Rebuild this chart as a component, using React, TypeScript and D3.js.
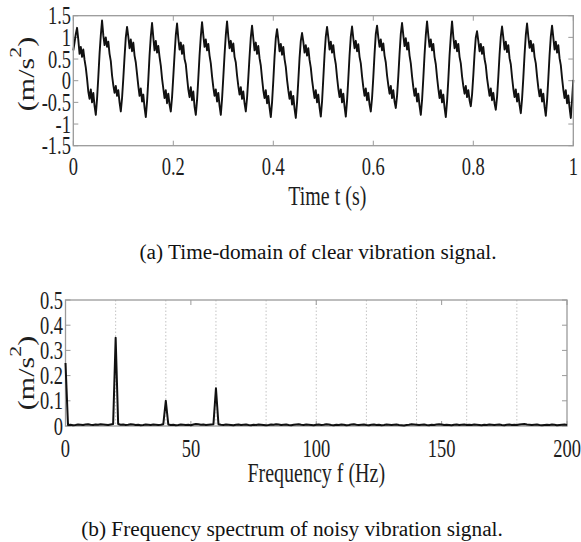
import React from "react";
import * as d3 from "d3";

// ---------- DATA ----------
const timeTicks = [0, 0.2, 0.4, 0.6, 0.8, 1];
const timeTickLabels = ["0", "0.2", "0.4", "0.6", "0.8", "1"];
const accelTicks = [-1.5, -1, -0.5, 0, 0.5, 1, 1.5];
const accelTickLabels = ["-1.5", "-1", "-0.5", "0", "0.5", "1", "1.5"];
const freqTicks = [0, 50, 100, 150, 200];
const freqTickLabels = ["0", "50", "100", "150", "200"];
const freqGrid = [20, 40, 60, 80, 100, 120, 140, 160, 180];
const ampTicks = [0, 0.1, 0.2, 0.3, 0.4, 0.5];
const ampTickLabels = ["0", "0.1", "0.2", "0.3", "0.4", "0.5"];

const timeStep = 0.0025; // s
const timeSignal = [
  0.70, 0.88, 1.08,
  1.22, 0.95, 0.62, 0.78, 0.55, 0.72, 0.48, 0.30, 0.05, -0.25, -0.42, -0.20, -0.50, -0.28, -0.58, -0.79, -0.42, 0.08, 0.62, 1.05,
  1.39, 1.05, 0.82, 1.00, 0.78, 0.90, 0.62, 0.45, 0.12, -0.10, -0.28, -0.12, -0.35, -0.22, -0.50, -0.71, -0.40, 0.05, 0.55, 1.00,
  1.24, 1.02, 0.75, 0.95, 0.68, 0.88, 0.58, 0.42, 0.15, -0.12, -0.35, -0.18, -0.48, -0.32, -0.62, -0.84, -0.48, 0.02, 0.58, 1.02,
  1.33, 1.00, 0.70, 0.92, 0.65, 0.80, 0.55, 0.35, 0.05, -0.18, -0.40, -0.22, -0.52, -0.30, -0.55, -0.71, -0.38, 0.10, 0.60, 1.05,
  1.32, 0.98, 0.72, 0.88, 0.62, 0.82, 0.50, 0.38, 0.08, -0.20, -0.38, -0.15, -0.45, -0.25, -0.60, -0.79, -0.45, 0.05, 0.58, 1.02,
  1.35, 1.05, 0.78, 0.95, 0.70, 0.85, 0.58, 0.40, 0.10, -0.15, -0.35, -0.20, -0.48, -0.28, -0.58, -0.79, -0.42, 0.08, 0.60, 1.05,
  1.37, 1.02, 0.75, 0.92, 0.68, 0.86, 0.55, 0.42, 0.12, -0.12, -0.32, -0.15, -0.42, -0.25, -0.52, -0.71, -0.40, 0.06, 0.56, 1.00,
  1.27, 0.98, 0.70, 0.88, 0.62, 0.80, 0.52, 0.35, 0.05, -0.22, -0.40, -0.22, -0.52, -0.35, -0.62, -0.84, -0.50, 0.00, 0.55, 0.98,
  1.19, 0.95, 0.68, 0.85, 0.60, 0.78, 0.50, 0.32, 0.02, -0.22, -0.42, -0.25, -0.55, -0.35, -0.65, -0.86, -0.50, 0.00, 0.52, 0.92,
  1.10, 0.90, 0.65, 0.82, 0.58, 0.75, 0.48, 0.30, 0.02, -0.20, -0.40, -0.22, -0.50, -0.32, -0.62, -0.83, -0.48, 0.05, 0.60, 1.02,
  1.24, 1.00, 0.72, 0.90, 0.65, 0.82, 0.55, 0.38, 0.08, -0.18, -0.38, -0.20, -0.50, -0.30, -0.60, -0.83, -0.46, 0.04, 0.58, 1.02,
  1.25, 0.98, 0.75, 0.92, 0.68, 0.84, 0.55, 0.40, 0.10, -0.15, -0.35, -0.18, -0.45, -0.28, -0.55, -0.71, -0.40, 0.08, 0.62, 1.08,
  1.27, 1.00, 0.78, 0.95, 0.70, 0.86, 0.58, 0.42, 0.12, -0.10, -0.30, -0.12, -0.40, -0.22, -0.48, -0.63, -0.35, 0.10, 0.62, 1.08,
  1.33, 1.05, 0.80, 0.98, 0.72, 0.88, 0.58, 0.40, 0.10, -0.15, -0.35, -0.18, -0.48, -0.30, -0.58, -0.79, -0.45, 0.05, 0.60, 1.05,
  1.37, 1.05, 0.78, 0.95, 0.70, 0.85, 0.55, 0.38, 0.08, -0.18, -0.40, -0.22, -0.50, -0.32, -0.62, -0.84, -0.48, 0.02, 0.58, 1.02,
  1.37, 1.02, 0.75, 0.92, 0.68, 0.85, 0.55, 0.40, 0.10, -0.12, -0.30, -0.12, -0.38, -0.22, -0.45, -0.59, -0.32, 0.12, 0.62, 1.00,
  1.14, 0.92, 0.68, 0.85, 0.62, 0.78, 0.50, 0.35, 0.06, -0.15, -0.35, -0.18, -0.45, -0.28, -0.52, -0.67, -0.38, 0.08, 0.60, 1.02,
  1.25, 1.00, 0.72, 0.90, 0.66, 0.82, 0.52, 0.38, 0.08, -0.18, -0.38, -0.20, -0.48, -0.30, -0.56, -0.75, -0.42, 0.06, 0.60, 1.05,
  1.32, 1.02, 0.76, 0.92, 0.68, 0.84, 0.55, 0.40, 0.10, -0.16, -0.36, -0.20, -0.48, -0.30, -0.60, -0.81, -0.46, 0.04, 0.58, 1.02,
  1.27, 1.00, 0.72, 0.90, 0.65, 0.82, 0.52, 0.36, 0.06, -0.20, -0.40, -0.22, -0.52, -0.34, -0.62, -0.86, -0.45, 0.02,
];

const freqStep = 1; // Hz
const spectrum = [
  0.250,
  0.004, 0.005, 0.003, 0.004, 0.006, 0.005, 0.004, 0.006, 0.007, 0.005,
  0.004, 0.006, 0.005, 0.007, 0.006, 0.005, 0.004, 0.006,
  0.008, 0.350, 0.008,
  0.005, 0.006, 0.004, 0.005, 0.007, 0.006, 0.004, 0.005, 0.003, 0.004,
  0.006, 0.005, 0.004, 0.006, 0.005, 0.004, 0.005,
  0.007, 0.100, 0.006,
  0.004, 0.005, 0.003, 0.004, 0.006, 0.005, 0.004, 0.005, 0.003, 0.006,
  0.008, 0.007, 0.005, 0.006, 0.004, 0.005, 0.006,
  0.007, 0.150, 0.007,
  0.005, 0.004, 0.006, 0.005, 0.004, 0.003, 0.005, 0.006, 0.004, 0.005,
  0.006, 0.004, 0.003, 0.005, 0.004, 0.006, 0.005, 0.004, 0.003, 0.004,
  0.006, 0.005, 0.007, 0.006, 0.004, 0.005, 0.006, 0.004, 0.003, 0.005,
  0.006, 0.007, 0.005, 0.004, 0.006, 0.005, 0.004, 0.003, 0.005, 0.006,
  0.004, 0.005, 0.007, 0.006, 0.004, 0.003, 0.005, 0.004, 0.006, 0.005,
  0.003, 0.004, 0.006, 0.007, 0.005, 0.004, 0.005, 0.006, 0.004, 0.003,
  0.005, 0.006, 0.004, 0.005, 0.003, 0.004, 0.006, 0.005, 0.004, 0.005,
  0.006, 0.004, 0.003, 0.002, 0.004, 0.005, 0.007, 0.006, 0.005, 0.004,
  0.005, 0.006, 0.004, 0.003, 0.005, 0.004, 0.006, 0.007, 0.006, 0.004,
  0.005, 0.004, 0.003, 0.005, 0.006, 0.004, 0.005, 0.006, 0.004, 0.005,
  0.004, 0.006, 0.005, 0.004, 0.003, 0.005, 0.004, 0.006, 0.005, 0.004,
  0.005, 0.006, 0.004, 0.003, 0.005, 0.006, 0.004, 0.005, 0.004, 0.006,
  0.007, 0.008, 0.006, 0.005, 0.004, 0.005, 0.006, 0.004, 0.003, 0.004,
  0.005, 0.004, 0.006, 0.005, 0.003, 0.004, 0.005, 0.006, 0.004,
];

// ---------- STYLE ----------
const FONT = "Liberation Serif, Times New Roman, Times, serif";
const SX = 0.74; // horizontal squeeze of the figure text
const BOX = "#9a9a9a";
const TXT = "#1e1e1e";

function HText({ x, y, anchor, size, children }: any) {
  return (
    <text
      transform={`translate(${x},${y}) scale(${SX},1)`}
      textAnchor={anchor}
      fontFamily={FONT}
      fontSize={size}
      fill={TXT}
    >
      {children}
    </text>
  );
}

function YLabel({ x, y }: any) {
  return (
    <text
      transform={`translate(${x},${y}) scale(${SX},1) rotate(-90)`}
      textAnchor="middle"
      fontFamily={FONT}
      fontSize={30}
      fill={TXT}
    >
      (m/s
      <tspan dy={-17} fontSize={22}>2</tspan>
      <tspan dy={17}>)</tspan>
    </text>
  );
}

export default function App() {
  const W = 581;
  const H = 542;
  const tick = 5;

  // ----- top panel -----
  const xT = d3.scaleLinear().domain([0, 1]).range([73.3, 573.3]);
  const yT = d3.scaleLinear().domain([-1.5, 1.5]).range([145.7, 15.7]);
  const lineT = d3
    .line<number>()
    .x((_, i) => xT(i * timeStep))
    .y((v) => yT(v));

  // ----- bottom panel -----
  const xB = d3.scaleLinear().domain([0, 200]).range([65.5, 567]);
  const yB = d3.scaleLinear().domain([0, 0.5]).range([426, 300]);
  const lineB = d3
    .line<number>()
    .x((_, i) => xB(i * freqStep))
    .y((v) => yB(v));

  const [tx0, tx1] = xT.range();
  const [ty0, ty1] = yT.range();
  const [bx0, bx1] = xB.range();
  const [by0, by1] = yB.range();

  return (
    <svg
      width={W}
      height={H}
      style={{ position: "absolute", left: 0, top: 0, background: "#fff" }}
    >
      <rect x={0} y={0} width={W} height={H} fill="#fff" />

      {/* ===== TOP: time-domain ===== */}
      <g>
        {timeTicks.map((t) => (
          <g key={"tt" + t} stroke={BOX} strokeWidth={1}>
            <line x1={xT(t)} x2={xT(t)} y1={ty0} y2={ty0 - tick} />
            <line x1={xT(t)} x2={xT(t)} y1={ty1} y2={ty1 + tick} />
          </g>
        ))}
        {accelTicks.map((v) => (
          <g key={"ta" + v} stroke={BOX} strokeWidth={1}>
            <line x1={tx0} x2={tx0 + tick} y1={yT(v)} y2={yT(v)} />
            <line x1={tx1} x2={tx1 - tick} y1={yT(v)} y2={yT(v)} />
          </g>
        ))}
        <path
          d={lineT(timeSignal) || ""}
          fill="none"
          stroke="#111"
          strokeWidth={1.9}
          strokeLinejoin="round"
        />
        <rect
          x={tx0}
          y={ty1}
          width={tx1 - tx0}
          height={ty0 - ty1}
          fill="none"
          stroke={BOX}
          strokeWidth={1.3}
        />
        {timeTicks.map((t, i) => (
          <HText key={"tl" + t} x={xT(t)} y={175} anchor="middle" size={25}>
            {timeTickLabels[i]}
          </HText>
        ))}
        {accelTicks.map((v, i) => (
          <HText key={"al" + v} x={71} y={yT(v) + 8.5} anchor="end" size={25}>
            {accelTickLabels[i]}
          </HText>
        ))}
        <HText x={(tx0 + tx1) / 2 + 4} y={205} anchor="middle" size={27}>
          Time t (s)
        </HText>
        <YLabel x={34} y={74} />
        <text
          x={318}
          y={259}
          textAnchor="middle"
          fontFamily={FONT}
          fontSize={21.3}
          fill="#111"
        >
          (a) Time-domain of clear vibration signal.
        </text>
      </g>

      {/* ===== BOTTOM: spectrum ===== */}
      <g>
        {freqGrid.map((f) => (
          <line
            key={"g" + f}
            x1={xB(f)}
            x2={xB(f)}
            y1={by1}
            y2={by0}
            stroke="#c4c4c4"
            strokeWidth={1}
            strokeDasharray="1.5,2"
          />
        ))}
        {freqTicks.map((f) => (
          <g key={"ft" + f} stroke={BOX} strokeWidth={1}>
            <line x1={xB(f)} x2={xB(f)} y1={by0} y2={by0 - tick} />
            <line x1={xB(f)} x2={xB(f)} y1={by1} y2={by1 + tick} />
          </g>
        ))}
        {ampTicks.map((v) => (
          <g key={"at" + v} stroke={BOX} strokeWidth={1}>
            <line x1={bx0} x2={bx0 + tick} y1={yB(v)} y2={yB(v)} />
            <line x1={bx1} x2={bx1 - tick} y1={yB(v)} y2={yB(v)} />
          </g>
        ))}
        <rect
          x={bx0}
          y={by1}
          width={bx1 - bx0}
          height={by0 - by1}
          fill="none"
          stroke={BOX}
          strokeWidth={1.3}
        />
        <path
          d={lineB(spectrum) || ""}
          fill="none"
          stroke="#111"
          strokeWidth={2}
          strokeLinejoin="round"
        />
        {freqTicks.map((f, i) => (
          <HText key={"fl" + f} x={xB(f)} y={457} anchor="middle" size={25}>
            {freqTickLabels[i]}
          </HText>
        ))}
        {ampTicks.map((v, i) => (
          <HText key={"apl" + v} x={63} y={yB(v) + 8.5} anchor="end" size={25}>
            {ampTickLabels[i]}
          </HText>
        ))}
        <HText x={(bx0 + bx1) / 2} y={482} anchor="middle" size={27}>
          Frequency f (Hz)
        </HText>
        <YLabel x={34} y={373} />
        <text
          x={292}
          y={536}
          textAnchor="middle"
          fontFamily={FONT}
          fontSize={21.3}
          fill="#111"
        >
          (b) Frequency spectrum of noisy vibration signal.
        </text>
      </g>
    </svg>
  );
}
